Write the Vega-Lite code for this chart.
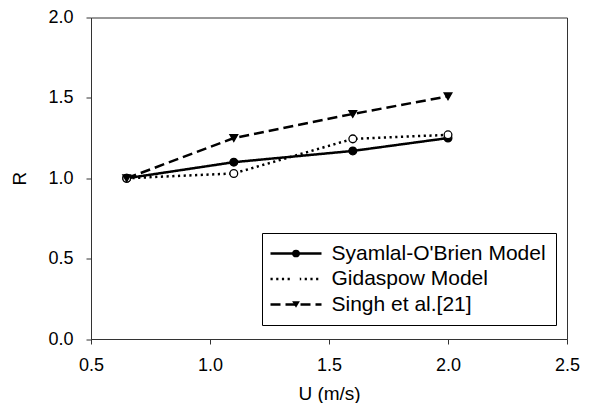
{
  "$schema": "https://vega.github.io/schema/vega-lite/v6.json",
  "width": 476,
  "height": 321.5,
  "autosize": {"type": "none"},
  "padding": {"left": 91, "top": 17.5, "right": 25, "bottom": 64},
  "background": "white",
  "config": {
    "font": "Liberation Sans",
    "view": {"stroke": "#333333", "strokeWidth": 1},
    "legend": {"symbolStrokeColor": "black"},
    "axis": {
      "grid": false,
      "domainColor": "#333333",
      "tickColor": "#333333",
      "tickSize": 5,
      "labelColor": "black",
      "titleColor": "black",
      "labelFontSize": 18,
      "titleFontSize": 19,
      "titleFontWeight": "normal"
    }
  },
  "data": {
    "values": [
      {"series": "Syamlal-O'Brien Model", "U": 0.65, "R": 1.0},
      {"series": "Syamlal-O'Brien Model", "U": 1.1, "R": 1.1},
      {"series": "Syamlal-O'Brien Model", "U": 1.6, "R": 1.17},
      {"series": "Syamlal-O'Brien Model", "U": 2.0, "R": 1.25},
      {"series": "Gidaspow Model", "U": 0.65, "R": 1.0},
      {"series": "Gidaspow Model", "U": 1.1, "R": 1.03},
      {"series": "Gidaspow Model", "U": 1.6, "R": 1.245},
      {"series": "Gidaspow Model", "U": 2.0, "R": 1.27},
      {"series": "Singh et al.[21]", "U": 0.65, "R": 1.0},
      {"series": "Singh et al.[21]", "U": 1.1, "R": 1.25},
      {"series": "Singh et al.[21]", "U": 1.6, "R": 1.4},
      {"series": "Singh et al.[21]", "U": 2.0, "R": 1.51}
    ]
  },
  "encoding": {
    "x": {
      "field": "U", "type": "quantitative",
      "scale": {"domain": [0.5, 2.5], "nice": false},
      "axis": {"values": [0.5, 1, 1.5, 2, 2.5], "format": ".1f", "title": "U (m/s)", "labelPadding": 12, "titlePadding": 10, "labelFlush": false}
    },
    "y": {
      "field": "R", "type": "quantitative",
      "scale": {"domain": [0, 2], "nice": false},
      "axis": {"values": [0, 0.5, 1, 1.5, 2], "format": ".1f", "title": "R", "labelPadding": 13, "titlePadding": 18}
    }
  },
  "layer": [
    {
      "mark": {"type": "line", "stroke": "black", "strokeWidth": 2.5},
      "encoding": {
        "strokeDash": {
          "field": "series", "type": "nominal",
          "sort": ["Syamlal-O'Brien Model", "Gidaspow Model", "Singh et al.[21]"],
          "scale": {"range": [[1, 0], [2.2, 3.5], [10, 5]]},
          "legend": {
            "title": null,
            "orient": "none",
            "legendX": 171,
            "legendY": 215.5,
            "padding": 10,
            "strokeColor": "black",
            "symbolType": "M-5.1,0H5.1",
            "symbolSize": 100,
            "symbolOffset": 13.5,
            "labelOffset": 25,
            "labelFontSize": 21,
            "labelLimit": 400,
            "labelColor": "black",
            "rowPadding": 3.5,
            "symbolStrokeColor": "black",
            "symbolStrokeWidth": 2.5
          }
        }
      }
    },
    {
      "mark": {"type": "point", "filled": true, "stroke": "black", "strokeWidth": 1.3, "size": 60, "opacity": 1},
      "encoding": {
        "shape": {
          "field": "series", "type": "nominal",
          "scale": {
            "domain": ["Syamlal-O'Brien Model", "Gidaspow Model", "Singh et al.[21]"],
            "range": ["circle", "circle", "triangle-down"]
          },
          "legend": {
            "title": null,
            "orient": "none",
            "legendX": 171,
            "legendY": 215.5,
            "padding": 10,
            "symbolSize": 60,
            "symbolOffset": 13.5,
            "labelFontSize": 21,
            "labelExpr": "''",
            "rowPadding": 3.5,
            "symbolStrokeColor": "black",
            "symbolStrokeWidth": 1.5,
            "encode": {"symbols": {"stroke": {"value": "black"}, "strokeWidth": {"value": 1.5}, "strokeOpacity": {"value": 1}}}
          }
        },
        "fill": {
          "field": "series", "type": "nominal",
          "scale": {
            "domain": ["Syamlal-O'Brien Model", "Gidaspow Model", "Singh et al.[21]"],
            "range": ["black", "white", "black"]
          },
          "legend": {
            "title": null,
            "orient": "none",
            "legendX": 171,
            "legendY": 215.5,
            "padding": 10,
            "symbolSize": 60,
            "symbolOffset": 13.5,
            "labelFontSize": 21,
            "labelExpr": "''",
            "rowPadding": 3.5,
            "symbolStrokeColor": "black",
            "symbolStrokeWidth": 1.5,
            "encode": {"symbols": {"stroke": {"value": "black"}, "strokeWidth": {"value": 1.5}, "strokeOpacity": {"value": 1}}}
          }
        }
      }
    }
  ]
}
